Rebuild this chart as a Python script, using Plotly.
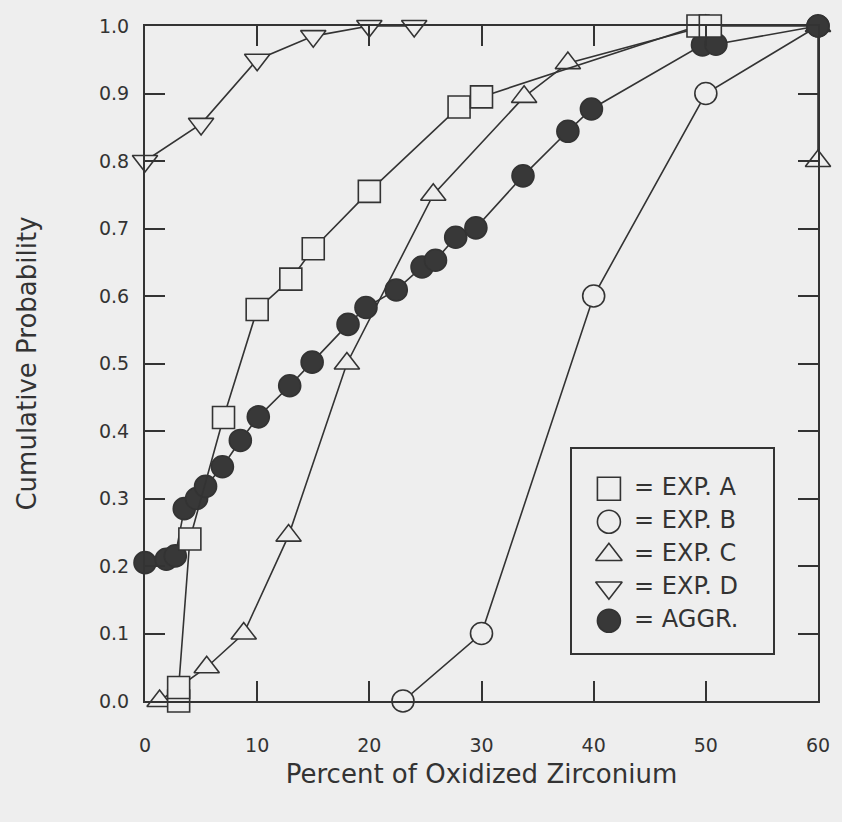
import plotly.graph_objects as go

# ---- data ----
exp_a_x = [3, 3, 4, 7, 10, 13, 15, 20, 28, 30, 49.3, 50.4]
exp_a_y = [0.0, 0.02, 0.24, 0.42, 0.58, 0.625, 0.67, 0.755, 0.88, 0.895, 1.0, 1.0]

exp_b_x = [23, 30, 40, 50, 60]
exp_b_y = [0.0, 0.1, 0.6, 0.9, 1.0]

exp_c_x = [1.3, 5.5, 8.8, 12.8, 18, 25.7, 33.8, 37.7, 50, 60, 60]
exp_c_y = [0.0, 0.05, 0.1, 0.245, 0.5, 0.75, 0.895, 0.945, 1.0, 1.0, 0.8]

exp_d_x = [0, 5, 10, 15, 20, 24]
exp_d_y = [0.8, 0.855, 0.95, 0.985, 1.0, 1.0]

aggr_x = [0, 1.9, 2.7, 3.5, 4.6, 5.4, 6.9, 8.5, 10.1, 12.9, 14.9, 18.1, 19.7,
          22.4, 24.7, 25.9, 27.7, 29.5, 33.7, 37.7, 39.8, 49.7, 50.9, 60]
aggr_y = [0.205, 0.21, 0.215, 0.285, 0.30, 0.318, 0.347, 0.386, 0.421, 0.467,
          0.502, 0.558, 0.583, 0.609, 0.643, 0.653, 0.687, 0.701, 0.778, 0.844,
          0.877, 0.972, 0.973, 1.0]

x_ticks = [0, 10, 20, 30, 40, 50, 60]
y_ticks = [0.0, 0.1, 0.2, 0.3, 0.4, 0.5, 0.6, 0.7, 0.8, 0.9, 1.0]

legend_labels = ["= EXP. A", "= EXP. B", "= EXP. C", "= EXP. D", "= AGGR."]

INK = "#333333"
BG = "#eeeeee"
DARK = "#383838"

# name, x, y, symbol, fill  (drawing order: squares on top)
series = [
    ("= EXP. C", exp_c_x, exp_c_y, "triangle-up", BG),
    ("= EXP. B", exp_b_x, exp_b_y, "circle", BG),
    ("= EXP. D", exp_d_x, exp_d_y, "triangle-down", BG),
    ("= AGGR.", aggr_x, aggr_y, "circle", DARK),
    ("= EXP. A", exp_a_x, exp_a_y, "square", BG),
]
style = {s[0]: (s[3], s[4]) for s in series}

fig = go.Figure()
for name, xs, ys, sym, fill in series:
    fig.add_trace(go.Scatter(
        x=xs, y=ys, mode="lines+markers", showlegend=False, cliponaxis=False,
        line=dict(color=INK, width=1.6),
        marker=dict(symbol=sym, size=22, color=fill, line=dict(color=INK, width=1.6)),
        name=name,
    ))

# boxed key drawn on its own small axes (categorical rows = legend labels)
fig.add_trace(go.Scatter(
    x=[0.185] * len(legend_labels), y=legend_labels, xaxis="x2", yaxis="y2",
    mode="markers", showlegend=False, cliponaxis=False, hoverinfo="skip",
    marker=dict(symbol=[style[n][0] for n in legend_labels], size=23,
                color=[style[n][1] for n in legend_labels],
                line=dict(color=INK, width=1.6)),
))
fig.add_trace(go.Scatter(
    x=[0.31] * len(legend_labels), y=legend_labels, xaxis="x2", yaxis="y2",
    mode="text", text=legend_labels, textposition="middle right",
    showlegend=False, cliponaxis=False, hoverinfo="skip",
    textfont=dict(family="DejaVu Sans", size=24, color=INK),
))

axis_common = dict(
    showline=True, linecolor=INK, linewidth=2, mirror="ticks",
    ticks="inside", ticklen=20, tickwidth=1.6, tickcolor=INK,
    showgrid=False, zeroline=False,
    tickfont=dict(family="DejaVu Sans", size=19, color=INK),
)

fig.update_layout(
    width=842, height=822,
    margin=dict(l=145, r=22, t=26, b=121),
    paper_bgcolor=BG, plot_bgcolor=BG,
    font=dict(family="DejaVu Sans", color=INK),
    showlegend=False,
    xaxis=dict(range=[0, 60], tickvals=x_ticks, ticklabelstandoff=26,
               title=dict(text="Percent of Oxidized Zirconium", standoff=10,
                          font=dict(family="DejaVu Sans", size=26, color=INK)),
               **axis_common),
    yaxis=dict(range=[0, 1], tickvals=y_ticks, tickformat=".1f", ticklabelstandoff=10,
               title=dict(text="Cumulative Probability", standoff=55,
                          font=dict(family="DejaVu Sans", size=26, color=INK)),
               **axis_common),
    xaxis2=dict(domain=[0.634, 0.933], anchor="y2", range=[0, 1],
                showline=True, mirror=True, linecolor=INK, linewidth=2,
                showticklabels=False, ticks="", showgrid=False, zeroline=False),
    yaxis2=dict(domain=[0.071, 0.373], anchor="x2", type="category",
                categoryorder="array", categoryarray=legend_labels,
                autorange=False, range=[4.98, -1.2],
                showline=True, mirror=True, linecolor=INK, linewidth=2,
                showticklabels=False, ticks="", showgrid=False, zeroline=False),
)

fig.write_html(
    "out.html",
    config={"displayModeBar": False},
    post_script="document.body.style.margin='0';document.body.style.background='#eeeeee';",
)
